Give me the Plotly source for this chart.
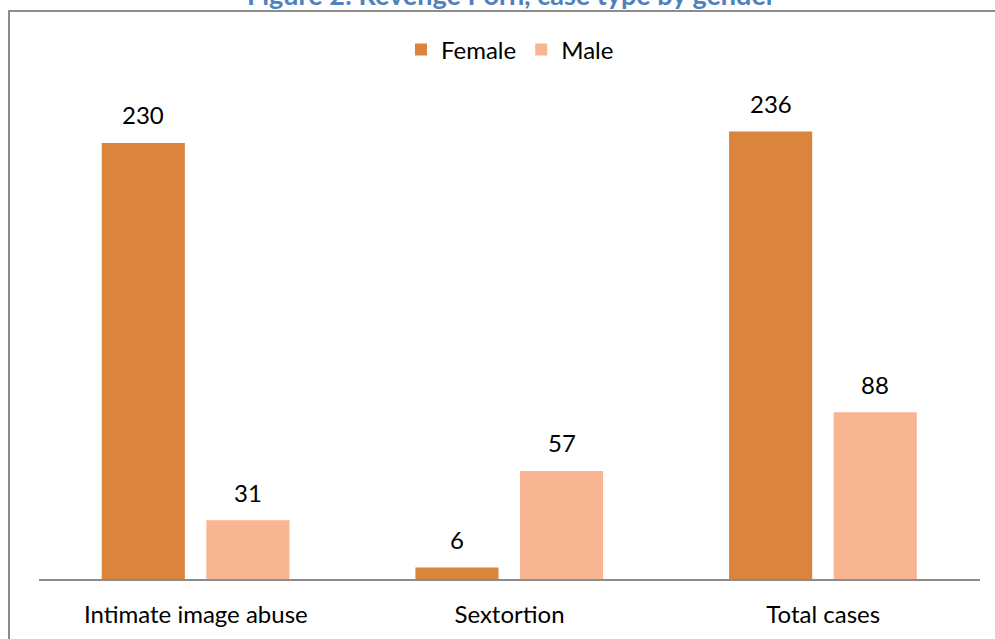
import plotly.graph_objects as go

# Case counts by type and gender
categories = ["Intimate image abuse", "Sextortion", "Total cases"]
female = [230, 6, 236]
male = [31, 57, 88]

FEMALE_COLOR = "#DB843D"
MALE_COLOR = "#F8B592"
FONT = "Lato"

W, H = 995, 639
M_L, M_R, M_T, M_B = 39, 15, 86, 60
PLOT_W = W - M_L - M_R
PLOT_H = H - M_T - M_B
Y_MAX = 260

BAR_W = 0.265
OFF_F = -0.30
OFF_M = 0.0335


def paper_x(px):
    return (px - M_L) / PLOT_W


def paper_y(py):
    return (H - M_B - py) / PLOT_H


fig = go.Figure()
fig.add_trace(go.Bar(name="Female", x=categories, y=female, width=BAR_W,
                     offset=OFF_F, marker=dict(color=FEMALE_COLOR, line_width=0)))
fig.add_trace(go.Bar(name="Male", x=categories, y=male, width=BAR_W,
                     offset=OFF_M, marker=dict(color=MALE_COLOR, line_width=0)))

# value labels above each bar
annotations = []
for i in range(len(categories)):
    for vals, off in ((female, OFF_F), (male, OFF_M)):
        annotations.append(dict(
            x=i + off + BAR_W / 2, y=vals[i], xref="x", yref="y",
            text=str(vals[i]), showarrow=False, yanchor="middle", yshift=28,
            font=dict(family=FONT, size=24, color="#000000")))

# chart title, partly above the top edge
annotations.append(dict(
    x=paper_x(511), y=paper_y(-5), xref="paper", yref="paper",
    text="<b>Figure 2: Revenge Porn, case type by gender</b>", showarrow=False,
    xanchor="center", yanchor="middle",
    font=dict(family=FONT, size=27, color="#4F81BD")))

fig.update_layout(
    width=W, height=H,
    margin=dict(l=M_L, r=M_R, t=M_T, b=M_B),
    paper_bgcolor="white", plot_bgcolor="white",
    barmode="group",
    showlegend=True,
    legend=dict(orientation="h", x=paper_x(510), y=paper_y(50),
                xanchor="center", yanchor="middle",
                font=dict(family=FONT, size=24, color="#000000"),
                bgcolor="rgba(0,0,0,0)"),
    xaxis=dict(type="category", range=[-0.5, 2.5], showgrid=False,
               showline=True, linecolor="#8C8C8C", linewidth=2,
               ticks="", ticklabelstandoff=13,
               tickfont=dict(family=FONT, size=24, color="#000000")),
    yaxis=dict(range=[0, Y_MAX], visible=False, showgrid=False, zeroline=False),
    annotations=annotations,
    shapes=[dict(type="rect", xref="paper", yref="paper",
                 x0=paper_x(9), x1=paper_x(1100), y0=paper_y(800), y1=paper_y(11),
                 line=dict(color="#8C8C8C", width=2), fillcolor="rgba(0,0,0,0)",
                 layer="below")],
)

fig.write_html("out.html")
